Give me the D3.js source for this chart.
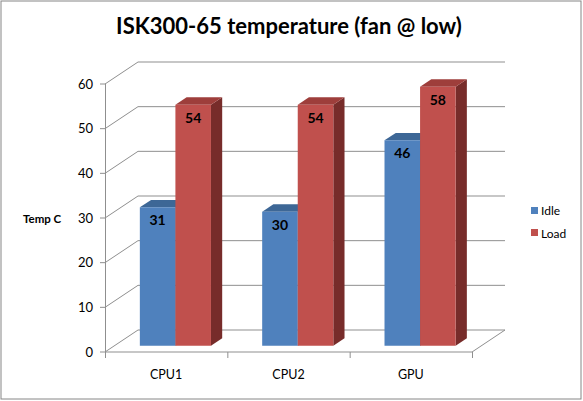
<!DOCTYPE html>
<html>
<head>
<meta charset="utf-8">
<script src="https://cdn.jsdelivr.net/npm/d3@7"></script>
<style>
  body { margin: 0; background: #fff; }
  text { font-family: Lato, "Open Sans", sans-serif; fill: #000; }
</style>
</head>
<body>
<div class="chart"></div>
<script>
let width = 583, height = 401;

// data
let categories = ["CPU1", "CPU2", "GPU"];
let series = ["Idle", "Load"];
let idle = [31, 30, 46];
let load = [54, 54, 58];
let yTicks = [0, 10, 20, 30, 40, 50, 60];

let colors = {
    Idle: { front: "#4F81BD", top: "#3D6796", side: "#2E4F78" },
    Load: { front: "#C0504D", top: "#9E3E3B", side: "#772C2A" }
};

let svg = d3.select(".chart").append("svg")
    .attr("width", width)
    .attr("height", height);

svg.append("rect")
    .attr("x", 1).attr("y", 1)
    .attr("width", width - 3).attr("height", height - 3)
    .attr("fill", "#fff")
    .attr("stroke", "#868686");

// front plane scales, depth vector for the full floor depth
let y = d3.scaleLinear().domain([0, 60]).range([352, 84]);
let x = d3.scaleBand().domain(categories).range([105, 472]);
let xs = d3.scaleBand().domain(series).range([0, x.bandwidth()]).paddingOuter(0.72);
let depth = { dx: 33, dy: -22 };
let z0 = 0.28, z1 = 0.62;

let proj = (px, v, z) => [px + z * depth.dx, y(v) + z * depth.dy];

// back wall grid lines
let grid = svg.append("g").attr("stroke", "#8f8f8f").attr("fill", "none");
yTicks.forEach(v => {
    let a = proj(105, v, 0), b = proj(105, v, 1), c = proj(472, v, 1);
    grid.append("path").attr("d", d3.line()([a, b, c]));
});
// floor front and right edges
grid.append("path").attr("d", d3.line()([proj(105, 0, 0), proj(472, 0, 0), proj(472, 0, 1)]));
// value axis
grid.append("line").attr("x1", 105.5).attr("x2", 105.5).attr("y1", y(0)).attr("y2", y(60));
yTicks.forEach(v => {
    grid.append("line").attr("x1", 100).attr("x2", 105.5).attr("y1", y(v)).attr("y2", y(v));
});
x.domain().concat([null]).forEach((c, i) => {
    let px = c === null ? x.range()[1] : x(c);
    grid.append("line").attr("x1", px + 0.5).attr("x2", px + 0.5).attr("y1", y(0)).attr("y2", y(0) + 6);
});

// tick labels
svg.append("g").selectAll("text").data(yTicks).join("text")
    .attr("x", 93).attr("y", d => y(d) + 4.5)
    .attr("text-anchor", "end")
    .style("font-size", "13px")
    .text(d => d);

svg.append("g").selectAll("text").data(categories).join("text")
    .attr("x", d => x(d) + x.bandwidth() / 2)
    .attr("y", 379)
    .attr("text-anchor", "middle")
    .style("font-size", "12.5px")
    .text(d => d);

// bars
let bars = [];
categories.forEach((c, i) => {
    bars.push({ cat: c, s: "Idle", v: idle[i] });
    bars.push({ cat: c, s: "Load", v: load[i] });
});

let barG = svg.append("g");
bars.forEach(d => {
    let left = x(d.cat) + xs(d.s), right = left + xs.bandwidth();
    let col = colors[d.s];
    let fl = proj(left, 0, z0), ft = proj(left, d.v, z0), fr = proj(right, d.v, z0), fb = proj(right, 0, z0);
    let bl = proj(left, d.v, z1), br = proj(right, d.v, z1), bb = proj(right, 0, z1);
    let g = barG.append("g");
    g.append("path").attr("d", d3.line()([fb, fr, br, bb]) + "Z").attr("fill", col.side);
    g.append("path").attr("d", d3.line()([ft, fr, br, bl]) + "Z").attr("fill", col.top);
    g.append("path").attr("d", d3.line()([fl, ft, fr, fb]) + "Z").attr("fill", col.front);
    g.append("text")
        .attr("x", (ft[0] + fr[0]) / 2)
        .attr("y", ft[1] + 18)
        .attr("text-anchor", "middle")
        .style("font-size", "14px")
        .style("font-weight", "bold")
        .text(d.v);
});

// title, axis title
svg.append("text")
    .attr("x", 289).attr("y", 34)
    .attr("text-anchor", "middle")
    .style("font-size", "22px")
    .style("font-weight", "bold")
    .text("ISK300-65 temperature (fan @ low)");

svg.append("text")
    .attr("x", 23).attr("y", 223)
    .style("font-size", "11.5px")
    .style("font-weight", "bold")
    .text("Temp C");

// legend
let legend = svg.append("g");
series.forEach((s, i) => {
    legend.append("rect")
        .attr("x", 531).attr("y", 207 + i * 22)
        .attr("width", 7).attr("height", 7)
        .attr("fill", colors[s].front);
    legend.append("text")
        .attr("x", 541).attr("y", 215 + i * 23)
        .style("font-size", "12px")
        .text(s);
});
</script>
</body>
</html>
